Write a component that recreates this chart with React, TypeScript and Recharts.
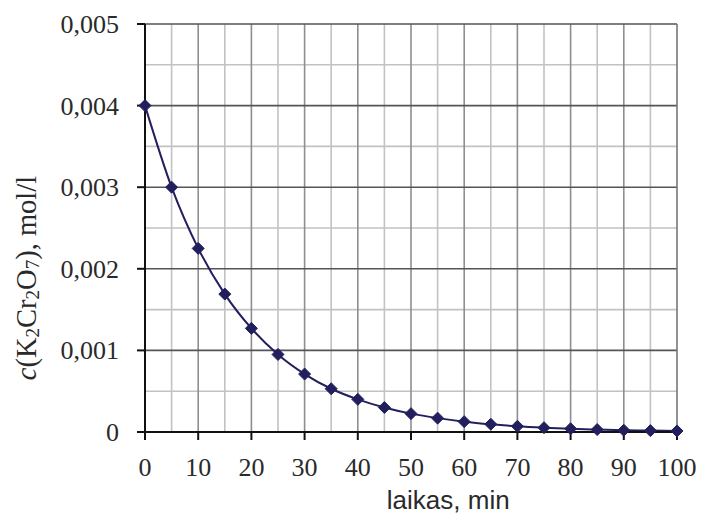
import React from 'react';
import { LineChart, Line, XAxis, YAxis, CartesianGrid, Label } from 'recharts';

const times = [0, 5, 10, 15, 20, 25, 30, 35, 40, 45, 50, 55, 60, 65, 70, 75, 80, 85, 90, 95, 100];
const conc = [
  0.004, 0.003, 0.00225, 0.00169, 0.00127, 0.00095, 0.00071, 0.00053, 0.0004, 0.0003, 0.000225,
  0.00017, 0.000127, 0.000095, 0.00007, 0.000053, 0.00004, 0.00003, 0.000022, 0.000017, 0.000013,
];
const xTicks = [0, 10, 20, 30, 40, 50, 60, 70, 80, 90, 100];
const yTicks = [0, 0.001, 0.002, 0.003, 0.004, 0.005];
const xMinor = [5, 15, 25, 35, 45, 55, 65, 75, 85, 95];
const xMajor = [10, 20, 30, 40, 50, 60, 70, 80, 90];
const yMinor = [0.0005, 0.0015, 0.0025, 0.0035, 0.0045];
const yMajor = [0.001, 0.002, 0.003, 0.004, 0.005];

const data = times.map((t, i) => ({ t, c: conc[i] }));

const SERIF = '"Liberation Serif", "Times New Roman", serif';
const SANS = '"Liberation Sans", Arial, sans-serif';
const LINE = '#221f5e';
const TEXT = '#2a2a2a';

const Diamond = (props: any) => {
  const { cx, cy } = props;
  const r = 6;
  return (
    <polygon
      points={`${cx},${cy - r} ${cx + r},${cy} ${cx},${cy + r} ${cx - r},${cy}`}
      fill={LINE}
      stroke={LINE}
    />
  );
};

const fmtY = (v: number) => (v === 0 ? '0' : v.toFixed(3).replace('.', ','));

const XTick = (props: any) => {
  const { x, y, payload } = props;
  return (
    <text x={x} y={y + 34} textAnchor="middle" fontFamily={SERIF} fontSize={26} fill={TEXT}>
      {payload.value}
    </text>
  );
};

const YTick = (props: any) => {
  const { x, y, payload } = props;
  return (
    <text x={x - 16} y={y + 9} textAnchor="end" fontFamily={SERIF} fontSize={26} fill={TEXT}>
      {fmtY(payload.value)}
    </text>
  );
};

const YTitle = (props: any) => {
  const { viewBox } = props;
  const cx = 26;
  const cy = viewBox.y + viewBox.height / 2 + 50;
  return (
    <text
      x={cx}
      y={cy}
      transform={`rotate(-90, ${cx}, ${cy})`}
      textAnchor="middle"
      dominantBaseline="central"
      fontFamily={SERIF}
      fontSize={28.5}
      fill={TEXT}
    >
      <tspan fontStyle="italic">c</tspan>
      <tspan>(K</tspan>
      <tspan fontSize={19} dy={6}>2</tspan>
      <tspan dy={-6}>Cr</tspan>
      <tspan fontSize={19} dy={6}>2</tspan>
      <tspan dy={-6}>O</tspan>
      <tspan fontSize={19} dy={6}>7</tspan>
      <tspan dy={-6}>), mol/l</tspan>
    </text>
  );
};

const XTitle = (props: any) => {
  const { viewBox } = props;
  return (
    <text
      x={viewBox.x + viewBox.width * 0.57}
      y={509}
      textAnchor="middle"
      fontFamily={SANS}
      fontSize={26}
      fill={TEXT}
    >
      laikas, min
    </text>
  );
};

export default function App() {
  return (
    <div style={{ position: 'absolute', left: 0, top: 0, background: '#fff' }}>
      <LineChart width={701} height={515} data={data} margin={{ top: 24, right: 24, bottom: 0, left: 0 }}>
        <CartesianGrid horizontalValues={yMinor} verticalValues={xMinor} stroke="#c2c2c2" strokeWidth={1.6} />
        <CartesianGrid horizontal={false} verticalValues={xMajor} stroke="#8e8e8e" strokeWidth={1.6} />
        <CartesianGrid horizontalValues={yMajor} vertical={false} stroke="#555" strokeWidth={1.6} />
        <CartesianGrid horizontal={false} verticalValues={[100]} stroke="#777" strokeWidth={1.6} />
        <XAxis
          dataKey="t"
          type="number"
          domain={[0, 100]}
          ticks={xTicks}
          height={83}
          tickSize={8}
          stroke="#111"
          strokeWidth={2}
          tick={<XTick />}
        >
          <Label content={<XTitle />} />
        </XAxis>
        <YAxis
          type="number"
          domain={[0, 0.005]}
          ticks={yTicks}
          width={145}
          tickSize={8}
          stroke="#111"
          strokeWidth={2}
          tick={<YTick />}
        >
          <Label content={<YTitle />} />
        </YAxis>
        <Line
          type="monotone"
          dataKey="c"
          stroke={LINE}
          strokeWidth={2}
          dot={<Diamond />}
          activeDot={false}
          isAnimationActive={false}
        />
      </LineChart>
    </div>
  );
}
